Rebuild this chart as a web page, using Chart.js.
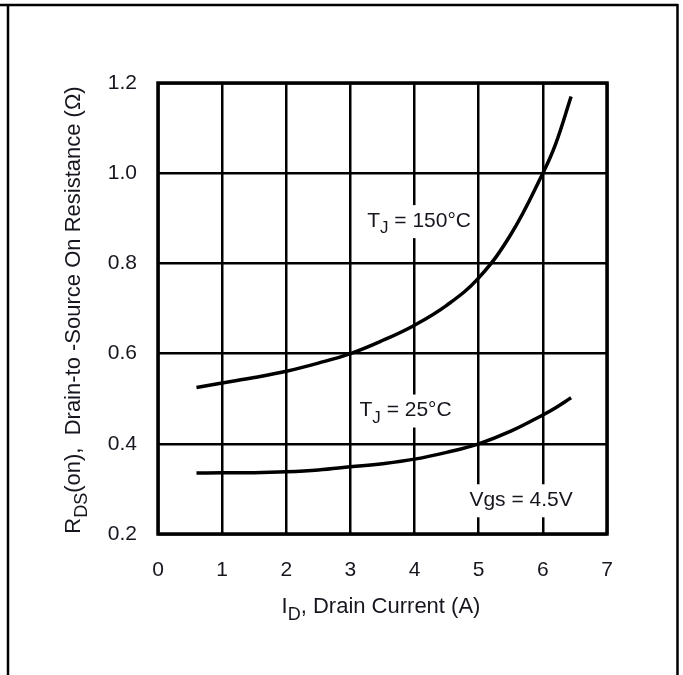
<!DOCTYPE html>
<html>
<head>
<meta charset="utf-8">
<script src="https://cdn.jsdelivr.net/npm/chart.js@4/dist/chart.umd.min.js"></script>
<style>
  html, body { margin: 0; padding: 0; background: #fff; }
  canvas { display: block; }
</style>
</head>
<body>
<canvas id="rdson" width="683" height="675"></canvas>
<script>
// Drain current sample points (A)
const drainCurrent = [0.6, 1, 1.5, 2, 2.5, 3, 3.5, 4, 4.5, 5, 5.5, 6, 6.2, 6.44];
// On resistance at TJ = 150°C (ohm)
const rds150 = [0.525, 0.535, 0.547, 0.561, 0.579, 0.600, 0.629, 0.663, 0.707, 0.768, 0.864, 1.000, 1.065, 1.170];
// On resistance at TJ = 25°C (ohm)
const rds25 = [0.335, 0.336, 0.336, 0.338, 0.342, 0.349, 0.356, 0.366, 0.381, 0.400, 0.428, 0.464, 0.480, 0.502];
// Axis tick values
const xTickValues = [0, 1, 2, 3, 4, 5, 6, 7];
const yTickValues = [0.2, 0.4, 0.6, 0.8, 1.0, 1.2];

const FONT = "'Liberation Sans', Arial, Helvetica, sans-serif";
const INK = '#16161f';

// Draw text made of runs, some of them subscripted
function richWidth(ctx, parts, size) {
  let w = 0;
  for (const p of parts) {
    ctx.font = (p.sub ? Math.round(size * 0.8) : size) + 'px ' + FONT;
    w += ctx.measureText(p.t).width;
  }
  return w;
}
function drawRich(ctx, parts, x, y, size, align) {
  const w = richWidth(ctx, parts, size);
  let cx = align === 'center' ? x - w / 2 : (align === 'right' ? x - w : x);
  ctx.textBaseline = 'alphabetic';
  ctx.textAlign = 'left';
  for (const p of parts) {
    const s = p.sub ? Math.round(size * 0.8) : size;
    ctx.font = s + 'px ' + FONT;
    ctx.fillText(p.t, cx, p.sub ? y + size * 0.3 : y);
    cx += ctx.measureText(p.t).width;
  }
  return w;
}

// Curve labels, positioned in data units (x in A, y in ohm)
const curveLabels = [
  { parts: [{ t: 'T' }, { t: 'J', sub: true }, { t: ' = 150°C' }], x: 4.07, y: 0.881, size: 21 },
  { parts: [{ t: 'T' }, { t: 'J', sub: true }, { t: ' = 25°C' }], x: 3.86, y: 0.461, size: 21 },
  { parts: [{ t: 'Vgs = 4.5V' }], x: 5.66, y: 0.262, size: 21 }
];

const decorations = {
  id: 'decorations',
  beforeDraw(chart) {
    const ctx = chart.ctx;
    ctx.save();
    ctx.fillStyle = '#fff';
    ctx.fillRect(0, 0, chart.width, chart.height);
    ctx.restore();
  },
  beforeDatasetsDraw(chart) {
    // curve labels sit on white boxes that interrupt the grid
    const ctx = chart.ctx;
    const xs = chart.scales.x, ys = chart.scales.y;
    ctx.save();
    for (const l of curveLabels) {
      const px = xs.getPixelForValue(l.x);
      const py = ys.getPixelForValue(l.y);
      const w = richWidth(ctx, l.parts, l.size);
      ctx.fillStyle = '#fff';
      ctx.fillRect(px - w / 2 - 2, py - l.size * 0.75 - 6, w + 4, l.size + 12);
      ctx.fillStyle = INK;
      drawRich(ctx, l.parts, px, py, l.size, 'center');
    }
    ctx.restore();
  },
  afterDraw(chart) {
    const ctx = chart.ctx;
    const a = chart.chartArea;
    ctx.save();
    // plot frame
    ctx.strokeStyle = '#000';
    ctx.lineWidth = 3.5;
    ctx.strokeRect(a.left, a.top, a.right - a.left, a.bottom - a.top);
    // axis titles
    ctx.fillStyle = INK;
    drawRich(ctx, [{ t: 'I' }, { t: 'D', sub: true }, { t: ', Drain Current (A)' }],
      381, 613, 22, 'center');
    ctx.translate(80, 310);
    ctx.rotate(-Math.PI / 2);
    drawRich(ctx, [{ t: 'R' }, { t: 'DS', sub: true }, { t: '(on),  Drain-to -Source On Resistance (Ω)' }],
      0, 0, 22, 'center');
    ctx.restore();
    // outer page frame
    ctx.save();
    ctx.strokeStyle = '#000';
    ctx.lineWidth = 2.5;
    ctx.beginPath();
    ctx.moveTo(0, 5);
    ctx.lineTo(678, 5);
    ctx.moveTo(8, 5);
    ctx.lineTo(8, 675);
    ctx.moveTo(677.5, 4);
    ctx.lineTo(677.5, 675);
    ctx.stroke();
    ctx.restore();
  }
};

const toPoints = (ys) => drainCurrent.map((x, i) => ({ x, y: ys[i] }));

new Chart(document.getElementById('rdson'), {
  type: 'line',
  data: {
    datasets: [
      { label: 'TJ = 150°C', data: toPoints(rds150), borderColor: '#000', borderWidth: 3.5,
        pointRadius: 0, tension: 0.4, fill: false },
      { label: 'TJ = 25°C', data: toPoints(rds25), borderColor: '#000', borderWidth: 3.5,
        pointRadius: 0, tension: 0.4, fill: false }
    ]
  },
  options: {
    responsive: false,
    animation: false,
    devicePixelRatio: 1,
    layout: { padding: { left: 0, top: 83, right: 76, bottom: 0 } },
    plugins: { legend: { display: false }, tooltip: { enabled: false } },
    scales: {
      x: {
        type: 'linear',
        min: 0, max: 7,
        afterBuildTicks: (s) => { s.ticks = xTickValues.map(v => ({ value: v })); },
        afterFit: (s) => { s.height = 141; },
        grid: { color: '#000', lineWidth: 2.5, drawTicks: false },
        border: { display: false },
        ticks: { color: INK, font: { family: FONT, size: 21 }, padding: 24, maxRotation: 0,
                 callback: (v) => String(v) }
      },
      y: {
        type: 'linear',
        min: 0.2, max: 1.2,
        afterBuildTicks: (s) => { s.ticks = yTickValues.map(v => ({ value: v })); },
        afterFit: (s) => { s.width = 158; },
        grid: { color: '#000', lineWidth: 2.5, drawTicks: false },
        border: { display: false },
        ticks: { color: INK, font: { family: FONT, size: 21 }, padding: 21,
                 callback: (v) => Number(v).toFixed(1) }
      }
    }
  },
  plugins: [decorations]
});
</script>
</body>
</html>
